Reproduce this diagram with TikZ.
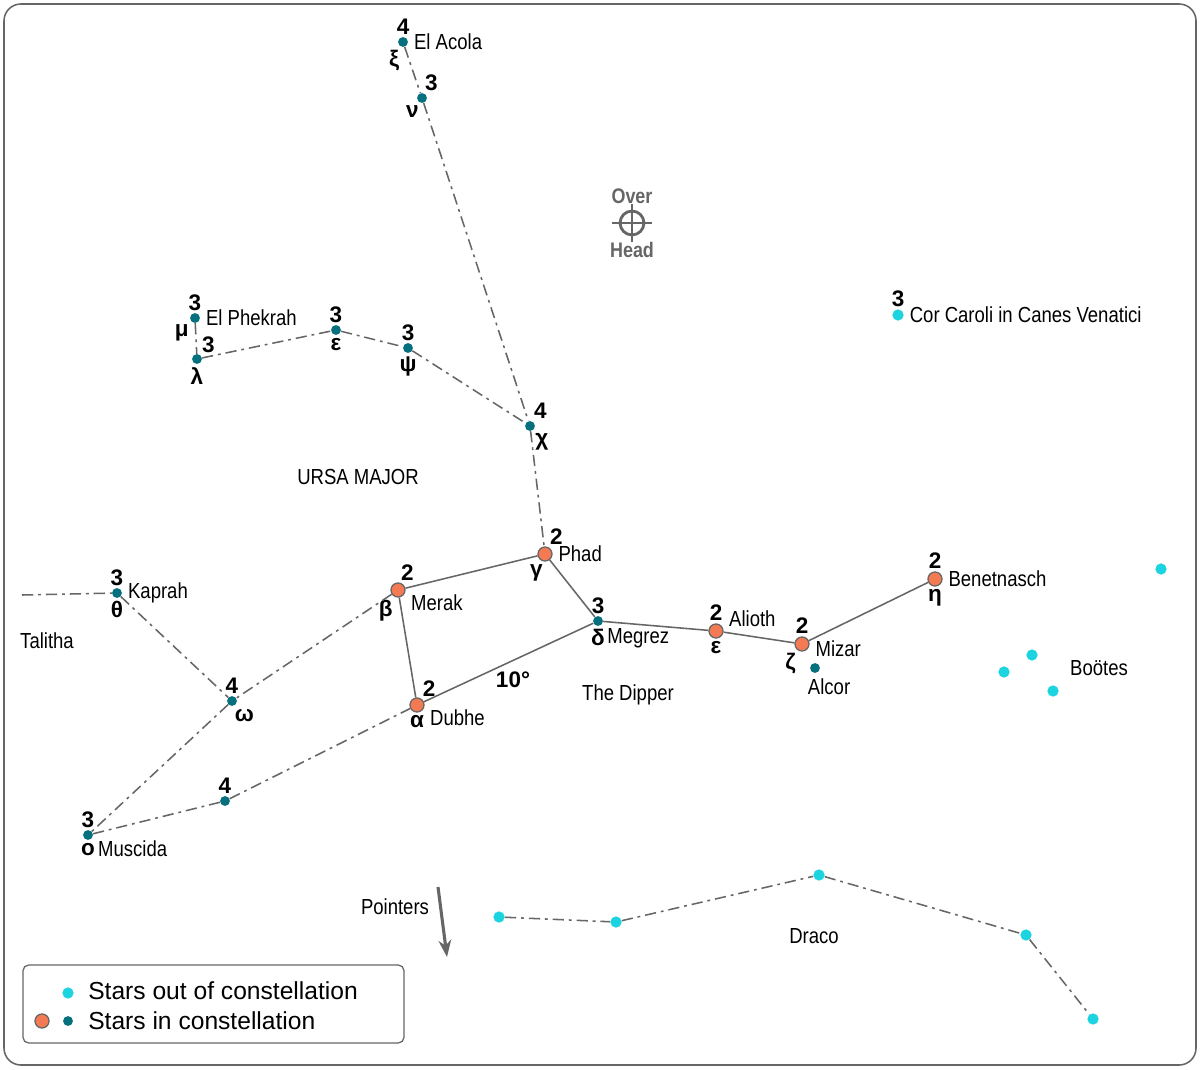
\documentclass[tikz,border=0pt]{standalone}
\usepackage{fontspec}
\setmainfont{Liberation Sans}[FakeStretch=0.85]
\newfontfamily\legendfont{Liberation Sans}
\usetikzlibrary{arrows.meta}
\definecolor{dipper}{HTML}{F47A53}
\definecolor{member}{HTML}{06707F}
\definecolor{outer}{HTML}{1CD3E0}
\definecolor{linegray}{HTML}{666666}
\tikzset{
    bright/.style={circle, draw=linegray, fill=dipper, line width=0.9pt,
                   minimum size=10pt, inner sep=0pt},
    faint/.style={circle, fill=member, minimum size=7pt, inner sep=0pt},
    outside/.style={circle, fill=outer, minimum size=8pt, inner sep=0pt},
    mag/.style={font=\legendfont\bfseries\fontsize{16}{16}\selectfont, inner sep=1pt,
                label distance=0.5pt},
    greek/.style={font=\legendfont\bfseries\fontsize{16}{16}\selectfont, inner sep=1pt,
                  label distance=1pt},
    starname/.style={font=\fontsize{15.5}{18}\selectfont, inner sep=1pt,
                 label distance=3pt},
    areaname/.style={font=\fontsize{15.5}{18}\selectfont, inner sep=1pt},
    solidlink/.style={draw=linegray, line width=1.1pt},
    dashlink/.style={draw=linegray, line width=1.1pt,
                     dash pattern=on 8pt off 3.5pt on 2pt off 3.5pt},
}

\begin{document}
\begin{tikzpicture}[x=0.025cm, y=-0.025cm]
    \useasboundingbox (0,0) rectangle (1200,1069);
    \draw[linegray, line width=1.1pt, rounded corners=12pt] (4,4) rectangle (1196,1065);

    % tail and head of the bear
    \node[faint, label={[mag]90:4}, label={[greek]-110:ξ}, label={[starname]0:El Acola}] (xi) at (403,42) {};
    \node[faint, label={[mag]75:3}, label={[greek]-105:ν}] (nu) at (422,98) {};
    \node[faint, label={[mag]65:4}, label={[greek]-55:χ}] (chi) at (530,426) {};
    \node[faint, label={[mag]90:3}, label={[greek]-135:μ}, label={[starname]0:El Phekrah}] (mu) at (195,318) {};
    \node[faint, label={[mag]55:3}, label={[greek]-90:λ}] (lambda) at (197,359) {};
    \node[faint, label={[mag]90:3}, label={[greek]-90:ε}] (epsup) at (336,330) {};
    \node[faint, label={[mag]90:3}, label={[greek]-90:ψ}] (psi) at (408,348) {};

    % the dipper
    \node[bright, label={[mag]65:2}, label={[greek]-95:γ}, label={[starname]0:Phad}] (gamma) at (545,554) {};
    \node[bright, label={[mag]80:2}, label={[greek]-115:β}, label={[starname]-15:Merak}] (beta) at (398,590) {};
    \node[bright, label={[mag]60:2}, label={[greek]-90:α}, label={[starname]-15:Dubhe}] (alpha) at (417,705) {};
    \node[faint, label={[mag]90:3}, label={[greek]-90:δ}, label={[starname]-35:Megrez}] (delta) at (598,621) {};
    \node[bright, label={[mag]90:2}, label={[greek]-90:ε}, label={[starname]15:Alioth}] (eps) at (716,631) {};
    \node[bright, label={[mag]90:2}, label={[greek]-120:ζ}, label={[starname, yshift=-3pt]0:Mizar}] (zeta) at (802,644) {};
    \node[faint, label={[starname, xshift=10pt]-90:Alcor}] (alcor) at (815,668) {};
    \node[bright, label={[mag]90:2}, label={[greek]-90:η}, label={[starname]0:Benetnasch}] (eta) at (935,579) {};
    \node[font=\legendfont\bfseries\fontsize{16}{16}\selectfont] (angle) at (513,680) {10°};

    % legs
    \node[faint, label={[mag]90:3}, label={[greek]-90:θ}, label={[starname]0:Kaprah}] (theta) at (117,593) {};
    \node[faint, label={[mag]90:4}, label={[greek]-80:ω}] (omega) at (232,701) {};
    \node[faint, label={[mag]90:4}] (foot) at (225,801) {};
    \node[faint, label={[mag]90:3}, label={[greek]-90:ο}, label={[starname]-25:Muscida}] (omicron) at (88,835) {};
    \coordinate (talitha end) at (22,595);

    % neighbours
    \node[outside, label={[mag]90:3}, label={[starname]0:Cor Caroli in Canes Venatici}] (cor) at (898,315) {};
    \node[outside] (boo1) at (1032,655) {};
    \node[outside] (boo2) at (1004,672) {};
    \node[outside] (boo3) at (1053,691) {};
    \node[outside] (boo4) at (1161,569) {};
    \node[outside] (dra1) at (499,917) {};
    \node[outside] (dra2) at (616,922) {};
    \node[outside] (dra3) at (819,875) {};
    \node[outside] (dra4) at (1026,935) {};
    \node[outside] (dra5) at (1093,1019) {};

    % names of areas
    \node[areaname] (ursa) at (358,477) {URSA MAJOR};
    \node[areaname] (dippername) at (628,695) {The Dipper};
    \node[areaname] (talitha) at (47,641) {Talitha};
    \node[areaname] (draco) at (814,936) {Draco};
    \node[areaname] (bootes) at (1099,668) {Boötes};
    \node[areaname] (pointers) at (395,907) {Pointers};

    % over head mark
    \node[circle, draw=linegray, line width=2pt, minimum size=17pt, inner sep=0pt] (zenith) at (632,223) {};
    \draw[linegray, line width=2pt] ([xshift=-5pt]zenith.west) -- ([xshift=5pt]zenith.east);
    \draw[linegray, line width=2pt] ([yshift=4pt]zenith.north) -- ([yshift=-4pt]zenith.south);
    \node[font=\bfseries\fontsize{15}{16}\selectfont, text=linegray, anchor=south, inner sep=1pt] (over) at ([yshift=3pt]zenith.north) {Over};
    \node[font=\bfseries\fontsize{15}{16}\selectfont, text=linegray, anchor=north, inner sep=1pt] (head) at ([yshift=-3pt]zenith.south) {Head};

    % pointers arrow
    \coordinate (point from) at (438,887);
    \coordinate (point to) at (447,957);
    \draw[linegray, line width=2.2pt, -{Stealth[length=12pt, width=9pt]}] (point from) -- (point to);

    % connectors
    \draw[dashlink] (xi) -- (nu);
    \draw[dashlink] (nu) -- (chi);
    \draw[dashlink] (chi) -- (gamma);
    \draw[dashlink] (mu) -- (lambda);
    \draw[dashlink] (lambda) -- (epsup);
    \draw[dashlink] (epsup) -- (psi);
    \draw[dashlink] (psi) -- (chi);
    \draw[solidlink] (beta) -- (gamma);
    \draw[solidlink] (gamma) -- (delta);
    \draw[solidlink] (delta) -- (eps);
    \draw[solidlink] (eps) -- (zeta);
    \draw[solidlink] (zeta) -- (eta);
    \draw[solidlink] (beta) -- (alpha);
    \draw[solidlink] (alpha) -- (delta);
    \draw[dashlink] (beta) -- (omega);
    \draw[dashlink] (theta) -- (omega);
    \draw[dashlink] (talitha end) -- (theta);
    \draw[dashlink] (omega) -- (omicron);
    \draw[dashlink] (omicron) -- (foot);
    \draw[dashlink] (foot) -- (alpha);
    \draw[dashlink] (dra1) -- (dra2);
    \draw[dashlink] (dra2) -- (dra3);
    \draw[dashlink] (dra3) -- (dra4);
    \draw[dashlink] (dra4) -- (dra5);

    % legend
    \node[draw=linegray, line width=0.9pt, rounded corners=4pt,
          minimum width=381*0.025cm, minimum height=78*0.025cm] (legend) at (213.5,1004) {};
    \node[outside] (keyout) at (68,993) {};
    \node[bright] (keybright) at (42,1021) {};
    \node[faint] (keyfaint) at (68,1021) {};
    \node[font=\legendfont\fontsize{17.5}{20}\selectfont, anchor=west, inner sep=0pt] (keyouttext) at (88,991) {Stars out of constellation};
    \node[font=\legendfont\fontsize{17.5}{20}\selectfont, anchor=west, inner sep=0pt] (keyintext) at (88,1021) {Stars in constellation};
\end{tikzpicture}
\end{document}
